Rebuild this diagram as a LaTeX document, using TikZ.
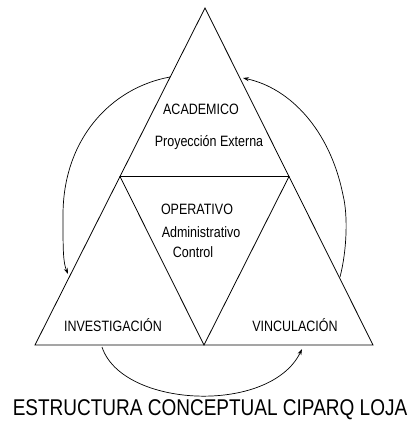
\documentclass[tikz,border=0pt]{standalone}
\usepackage{fontspec}
\setmainfont{Liberation Sans}
\usetikzlibrary{arrows.meta}
\newcommand{\alto}[1]{\scalebox{1}[1.2]{#1}}

\begin{document}
\begin{tikzpicture}[x=1pt,y=-1pt,>={Stealth[length=6pt,width=4pt]},
    lado/.style={line width=0.8pt},
    ciclo/.style={->, line width=0.7pt},
    rotulo/.style={font=\fontsize{12.5}{14}\selectfont, inner sep=0pt}]

    \useasboundingbox (0,0) rectangle (411,422);

    %%% TRIANGLE

    % Vertices and midpoints
    \coordinate (A) at (205,8);
    \coordinate (B) at (35,345);
    \coordinate (C) at (373,345);
    \coordinate (AB) at (120,176.5);
    \coordinate (AC) at (289,176.5);
    \coordinate (BC) at (204,345);

    \draw[lado] (A) -- (B) -- (C) -- cycle;
    \draw[lado] (AB) -- (AC) -- (BC) -- cycle;

    % Labels
    \node[rotulo] (academico) at (201,109) {\alto{ACADEMICO}};
    \node[rotulo] (proyeccion) at (209,143) {\alto{Proyección Externa}};
    \node[rotulo] (operativo) at (197,209) {\alto{OPERATIVO}};
    \node[rotulo] (administrativo) at (201,232) {\alto{Administrativo}};
    \node[rotulo] (control) at (193,252) {\alto{Control}};
    \node[rotulo] (investigacion) at (113,325) {\alto{INVESTIGACIÓN}};
    \node[rotulo] (vinculacion) at (295,325) {\alto{VINCULACIÓN}};

    %%% CYCLE ARROWS

    % End points on the sides
    \coordinate (izqA) at (170,77);
    \coordinate (izqB) at (68,274);
    \coordinate (derC) at (340,277);
    \coordinate (derA) at (243,78);
    \coordinate (abaB) at (102,347);
    \coordinate (abaC) at (302,349);

    \draw[ciclo] (izqA) .. controls (110,88) and (63,140) .. (63,215)
        .. controls (63,250) and (63,262) .. (izqB);
    \draw[ciclo] (derC) .. controls (347,250) and (348,215) .. (343,195)
        .. controls (330,130) and (290,88) .. (derA);
    \draw[ciclo] (abaB) .. controls (122,408) and (270,415) .. (abaC);

    % Title
    \node[font=\fontsize{19}{22}\selectfont, inner sep=0pt] (titulo) at (210,410) {\alto{ESTRUCTURA CONCEPTUAL CIPARQ LOJA}};
\end{tikzpicture}
\end{document}
